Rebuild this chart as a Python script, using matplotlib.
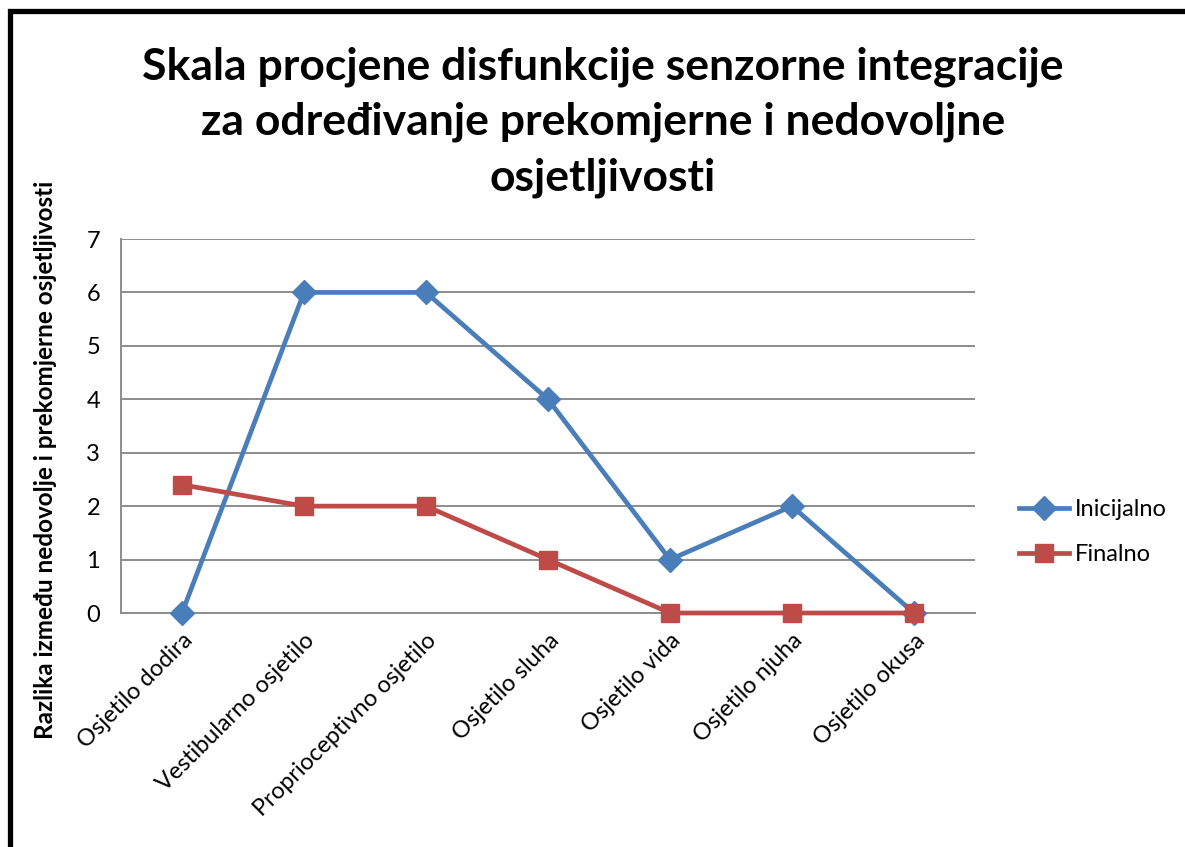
import numpy as np
import matplotlib.pyplot as plt
from matplotlib.patches import Rectangle

# categories and values
categories = ['Osjetilo dodira', 'Vestibularno osjetilo', 'Proprioceptivno osjetilo',
              'Osjetilo sluha', 'Osjetilo vida', 'Osjetilo njuha', 'Osjetilo okusa']
inicijalno = [0, 6, 6, 4, 1, 2, 0]
finalno = [2.4, 2, 2, 1, 0, 0, 0]
yticks = [0, 1, 2, 3, 4, 5, 6, 7]

title = 'Skala procjene disfunkcije senzorne integracije\nza određivanje prekomjerne i nedovoljne\nosjetljivosti'
ylabel = 'Razlika između nedovolje i prekomjerne osjetljivosti'

plt.rcParams['font.family'] = ['Lato', 'DejaVu Sans']

W, H = 1185, 847
fig = plt.figure(figsize=(W / 100, H / 100), dpi=100)

# thick black frame, runs off the right and bottom edges
fig.patches.append(Rectangle((10 / W, -0.05), 1.2, 1 - 11 / H + 0.05,
                             transform=fig.transFigure, fill=False,
                             edgecolor='black', linewidth=3.8))

ax = fig.add_axes([121 / W, 1 - 613 / H, (975 - 121) / W, (613 - 239) / H])

x = np.arange(len(categories))
ax.plot(x, inicijalno, color='#4A7EBB', linewidth=3.4, marker='D', markersize=12,
        label='Inicijalno', zorder=3, clip_on=False)
ax.plot(x, finalno, color='#BE4B48', linewidth=3.4, marker='s', markersize=13,
        label='Finalno', zorder=3, clip_on=False)

ax.set_xlim(-0.5, len(categories) - 0.5)
ax.set_ylim(0, 7)
ax.set_yticks(yticks)
ax.set_xticks(x)
ax.set_xticklabels(categories, rotation=45, ha='right', rotation_mode='anchor', fontsize=17)
ax.tick_params(axis='y', labelsize=17, length=0, pad=15)
ax.tick_params(axis='x', length=0, pad=12)
ax.grid(axis='y', color='#8C8C8C', linewidth=1.4)
ax.set_axisbelow(True)
for s in ['top', 'right']:
    ax.spines[s].set_visible(False)
for s in ['left', 'bottom']:
    ax.spines[s].set_color('#8C8C8C')
    ax.spines[s].set_linewidth(1.4)

fig.text(603 / W, 1 - 122 / H, title, ha='center', va='center', fontsize=32,
         fontweight='bold', linespacing=1.45)
fig.text(46 / W, 1 - 460 / H, ylabel, ha='center', va='center', rotation=90,
         fontsize=17.5, fontweight='bold')

fig.legend(loc='center left', bbox_to_anchor=(998 / W, 1 - 532 / H), frameon=False,
           fontsize=17, handlelength=2.1, handletextpad=0.25, labelspacing=1.0)

fig.savefig('out.png', dpi=100)
